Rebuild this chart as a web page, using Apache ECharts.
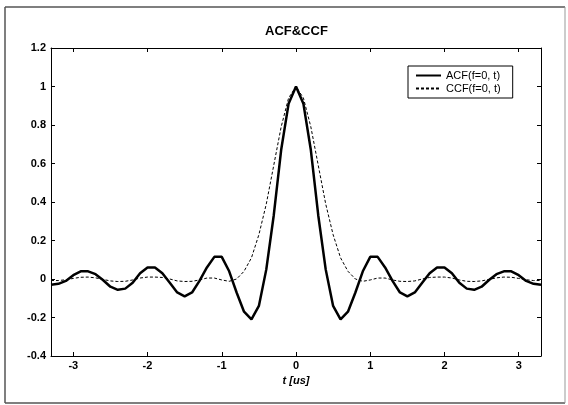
<!DOCTYPE html>
<html>
<head>
<meta charset="utf-8">
<script src="https://cdn.jsdelivr.net/npm/echarts@6/dist/echarts.min.js"></script>
<style>
  html, body { margin: 0; padding: 0; background: #fff; }
  #chart { width: 568px; height: 405px; }
</style>
</head>
<body>
<div id="chart"></div>
<script>
// time axis samples (us)
const tValues = [
  -3.3, -3.2, -3.1, -3.0, -2.9, -2.8, -2.7, -2.6, -2.5, -2.4, -2.3, -2.2,
  -2.1, -2.0, -1.9, -1.8, -1.7, -1.6, -1.5, -1.4, -1.3, -1.2, -1.1, -1.0,
  -0.9, -0.8, -0.7, -0.6, -0.5, -0.4, -0.3, -0.2, -0.1, 0.0,
  0.1, 0.2, 0.3, 0.4, 0.5, 0.6, 0.7, 0.8, 0.9, 1.0, 1.1, 1.2,
  1.3, 1.4, 1.5, 1.6, 1.7, 1.8, 1.9, 2.0, 2.1, 2.2, 2.3, 2.4,
  2.5, 2.6, 2.7, 2.8, 2.9, 3.0, 3.1, 3.2, 3.3
];
// ACF(f=0, t)
const acfValues = [
  -0.03, -0.025, -0.01, 0.02, 0.04, 0.04, 0.025, -0.005, -0.04, -0.056, -0.05, -0.02,
  0.03, 0.06, 0.06, 0.03, -0.02, -0.07, -0.09, -0.07, -0.01, 0.06, 0.115, 0.115,
  0.04, -0.07, -0.17, -0.21, -0.14, 0.05, 0.33, 0.67, 0.91, 1.0,
  0.91, 0.67, 0.33, 0.05, -0.14, -0.21, -0.17, -0.07, 0.04, 0.115, 0.115, 0.06,
  -0.01, -0.07, -0.09, -0.07, -0.02, 0.03, 0.06, 0.06, 0.03, -0.02, -0.05, -0.056,
  -0.04, -0.005, 0.025, 0.04, 0.04, 0.02, -0.01, -0.025, -0.03
];
// CCF(f=0, t)
const ccfValues = [
  -0.008, -0.008, -0.004, 0.003, 0.009, 0.01, 0.006, -0.002, -0.01, -0.013, -0.012, -0.005,
  0.005, 0.01, 0.01, 0.008, 0.0, -0.01, -0.013, -0.012, -0.005, 0.005, 0.005, -0.005,
  -0.012, 0.0, 0.04, 0.11, 0.23, 0.39, 0.59, 0.79, 0.94, 1.0,
  0.94, 0.79, 0.59, 0.39, 0.23, 0.11, 0.04, 0.0, -0.012, -0.005, 0.005, 0.005,
  -0.005, -0.012, -0.013, -0.01, 0.0, 0.008, 0.01, 0.01, 0.005, -0.005, -0.012, -0.013,
  -0.01, -0.002, 0.006, 0.01, 0.009, 0.003, -0.004, -0.008, -0.008
];
const xTicks = [-3, -2, -1, 0, 1, 2, 3];
const seriesNames = ['ACF(f=0, t)', 'CCF(f=0, t)'];

const font = '"Liberation Sans", Arial, Helvetica, sans-serif';
const chart = echarts.init(document.getElementById('chart'), null, { renderer: 'canvas' });

const tickStyle = { inside: true, length: 4, lineStyle: { color: '#000', width: 1 } };
const lineStyle = { show: true, onZero: false, lineStyle: { color: '#000', width: 1 } };

chart.setOption({
  animation: false,
  backgroundColor: '#fff',
  textStyle: { fontFamily: font },
  title: {
    text: 'ACF&CCF',
    left: 265,
    top: 25,
    padding: 0,
    textStyle: { fontFamily: font, fontSize: 13, fontWeight: 'bold', color: '#000' }
  },
  legend: {
    data: seriesNames,
    orient: 'vertical',
    left: 408,
    top: 66,
    padding: [4, 12, 4, 7],
    itemGap: 2,
    itemWidth: 25,
    itemHeight: 12,
    backgroundColor: '#fff',
    borderColor: '#000',
    borderWidth: 1,
    itemStyle: { opacity: 0 },
    textStyle: { fontFamily: font, fontSize: 11, color: '#000' }
  },
  grid: { left: 51, right: 27, top: 48, bottom: 49, containLabel: false },
  xAxis: [
    {
      type: 'value', min: -3.3, max: 3.3, position: 'bottom',
      axisLine: lineStyle,
      axisTick: Object.assign({ customValues: xTicks }, tickStyle),
      axisLabel: { customValues: xTicks, fontFamily: font, fontSize: 11, fontWeight: 'bold', color: '#000', margin: 4 },
      splitLine: { show: false },
      name: 't [us]', nameLocation: 'middle', nameGap: 14,
      nameTextStyle: { fontFamily: font, fontSize: 11, fontWeight: 'bold', fontStyle: 'italic', color: '#000' }
    },
    {
      type: 'value', min: -3.3, max: 3.3, position: 'top',
      axisLine: lineStyle,
      axisTick: Object.assign({ customValues: xTicks }, tickStyle),
      axisLabel: { show: false },
      splitLine: { show: false }
    }
  ],
  yAxis: [
    {
      type: 'value', min: -0.4, max: 1.2, interval: 0.2, position: 'left',
      axisLine: lineStyle,
      axisTick: tickStyle,
      axisLabel: { fontFamily: font, fontSize: 11, fontWeight: 'bold', color: '#000', margin: 5 },
      splitLine: { show: false }
    },
    {
      type: 'value', min: -0.4, max: 1.2, interval: 0.2, position: 'right',
      axisLine: lineStyle,
      axisTick: tickStyle,
      axisLabel: { show: false },
      splitLine: { show: false }
    }
  ],
  series: [
    {
      name: seriesNames[0], type: 'line', xAxisIndex: 0, yAxisIndex: 0,
      data: tValues.map((t, i) => [t, acfValues[i]]),
      symbol: 'none', showSymbol: false, smooth: false,
      lineStyle: { color: '#000', width: 2.5 },
      itemStyle: { color: '#000' },
      z: 3
    },
    {
      name: seriesNames[1], type: 'line', xAxisIndex: 0, yAxisIndex: 0,
      data: tValues.map((t, i) => [t, ccfValues[i]]),
      symbol: 'none', showSymbol: false, smooth: false,
      lineStyle: { color: '#000', width: 1, type: [3, 2] },
      itemStyle: { color: '#000' },
      z: 2
    }
  ],
  graphic: [
    { type: 'line', shape: { x1: 5, y1: 7, x2: 565, y2: 7 }, style: { stroke: '#555', lineWidth: 1.5 }, silent: true },
    { type: 'line', shape: { x1: 5, y1: 7, x2: 5, y2: 403 }, style: { stroke: '#555', lineWidth: 1.5 }, silent: true },
    { type: 'line', shape: { x1: 5, y1: 403, x2: 565, y2: 403 }, style: { stroke: '#555', lineWidth: 1.5 }, silent: true },
    { type: 'line', shape: { x1: 565, y1: 7, x2: 565, y2: 403 }, style: { stroke: '#999', lineWidth: 1 }, silent: true }
  ]
});
</script>
</body>
</html>
